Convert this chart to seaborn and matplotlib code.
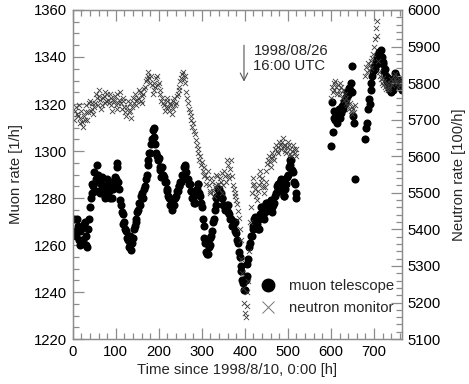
import numpy as np
import pandas as pd
import matplotlib
matplotlib.use("Agg")
import matplotlib.pyplot as plt
import seaborn as sns
from matplotlib.lines import Line2D
from matplotlib.ticker import MultipleLocator

# muon telescope, 2 h samples from t=4 to t=520
muon_t1 = np.arange(4, 521, 2)
muon_rate1 = [
    1271, 1266, 1264, 1271, 1268, 1262, 1260, 1266, 1267, 1262,
    1262, 1269, 1270, 1264, 1260, 1259, 1267, 1271, 1276, 1280,
    1282, 1286, 1285, 1291, 1283, 1288, 1294, 1290, 1287, 1283,
    1282, 1286, 1289, 1285, 1284, 1280, 1281, 1285, 1288, 1284,
    1283, 1280, 1287, 1284, 1280, 1284, 1285, 1289, 1288, 1293,
    1295, 1287, 1284, 1279, 1277, 1274, 1273, 1269, 1270, 1267,
    1266, 1263, 1262, 1259, 1264, 1260, 1258, 1261, 1263, 1267,
    1268, 1271, 1270, 1274, 1275, 1278, 1277, 1281, 1282, 1280,
    1280, 1284, 1285, 1288, 1290, 1294, 1296, 1299, 1299, 1303,
    1305, 1309, 1310, 1306, 1303, 1299, 1298, 1296, 1297, 1293,
    1292, 1289, 1293, 1290, 1289, 1287, 1287, 1284, 1283, 1281,
    1280, 1277, 1277, 1275, 1279, 1277, 1277, 1280, 1281, 1283,
    1283, 1285, 1285, 1287, 1287, 1290, 1290, 1293, 1293, 1294,
    1291, 1288, 1288, 1286, 1286, 1283, 1283, 1280, 1280, 1278,
    1278, 1282, 1284, 1286, 1286, 1282, 1281, 1278, 1276, 1271,
    1268, 1263, 1261, 1257, 1256, 1256, 1259, 1260, 1263, 1264,
    1266, 1270, 1271, 1275, 1277, 1280, 1281, 1284, 1284, 1282,
    1282, 1280, 1280, 1277, 1277, 1275, 1275, 1277, 1277, 1274,
    1273, 1271, 1271, 1268, 1268, 1270, 1270, 1266, 1265, 1262,
    1261, 1257, 1255, 1251, 1249, 1245, 1244, 1241, 1241, 1245,
    1247, 1252, 1254, 1259, 1261, 1264, 1264, 1267, 1268, 1271,
    1272, 1269, 1269, 1267, 1267, 1271, 1273, 1276, 1276, 1272,
    1271, 1274, 1275, 1278, 1278, 1275, 1275, 1278, 1279, 1276,
    1274, 1277, 1278, 1281, 1282, 1285, 1286, 1284, 1283, 1287,
    1288, 1285, 1284, 1281, 1281, 1284, 1286, 1289, 1290, 1293,
    1294, 1296, 1296, 1292, 1291, 1287, 1286, 1282, 1280,
]
# after the data gap
muon_t2 = np.arange(600, 657, 2)
muon_rate2 = [
    1302, 1321, 1308, 1314, 1317, 1313, 1316, 1312, 1315, 1318,
    1314, 1317, 1316, 1319, 1318, 1321, 1320, 1323, 1322, 1325,
    1324, 1327, 1326, 1329, 1336, 1325, 1315, 1312, 1288,
]
muon_t3 = np.arange(680, 765, 2)
muon_rate3 = [
    1305, 1310, 1312, 1318, 1322, 1320, 1326, 1329, 1332, 1334,
    1336, 1335, 1338, 1337, 1340, 1341, 1342, 1341, 1343, 1340,
    1337, 1338, 1334, 1335, 1332, 1330, 1331, 1328, 1327, 1326,
    1325, 1327, 1326, 1329, 1331, 1333, 1332, 1331, 1330, 1328,
    1329, 1327, 1326,
]

# neutron monitor
neutron_t1 = np.arange(4, 521, 2)
neutron_rate1 = [
    5700, 5725, 5735, 5715, 5710, 5740, 5690, 5705, 5725, 5695,
    5680, 5710, 5700, 5720, 5740, 5700, 5720, 5745, 5750, 5725,
    5730, 5745, 5715, 5735, 5745, 5770, 5760, 5740, 5780, 5765,
    5755, 5730, 5740, 5760, 5765, 5745, 5775, 5750, 5770, 5755,
    5745, 5770, 5760, 5740, 5725, 5755, 5750, 5765, 5740, 5730,
    5770, 5745, 5755, 5775, 5745, 5730, 5760, 5750, 5735, 5720,
    5710, 5735, 5750, 5720, 5725, 5745, 5705, 5735, 5760, 5745,
    5770, 5750, 5740, 5755, 5760, 5780, 5775, 5750, 5745, 5765,
    5770, 5785, 5790, 5805, 5810, 5820, 5830, 5815, 5800, 5820,
    5795, 5770, 5780, 5800, 5790, 5815, 5820, 5795, 5800, 5780,
    5770, 5750, 5760, 5745, 5740, 5725, 5735, 5760, 5750, 5735,
    5725, 5745, 5740, 5715, 5730, 5750, 5760, 5740, 5745, 5765,
    5770, 5780, 5790, 5805, 5815, 5825, 5830, 5810, 5820, 5800,
    5775, 5760, 5745, 5730, 5720, 5710, 5700, 5680, 5690, 5670,
    5660, 5645, 5630, 5620, 5610, 5590, 5600, 5575, 5585, 5560,
    5570, 5545, 5550, 5525, 5540, 5560, 5520, 5500, 5505, 5540,
    5530, 5505, 5490, 5515, 5520, 5550, 5545, 5525, 5510, 5540,
    5530, 5555, 5500, 5520, 5560, 5545, 5530, 5590, 5575, 5550,
    5540, 5565, 5590, 5545, 5520, 5510, 5500, 5490, 5480, 5470,
    5450, 5430, 5400, 5370, 5320, 5280, 5240, 5200, 5170, 5160,
    5190, 5230, 5260, 5340, 5420, 5460, 5500, 5520, 5540, 5525,
    5510, 5490, 5480, 5505, 5520, 5545, 5560, 5530, 5540, 5515,
    5500, 5515, 5530, 5560, 5580, 5590, 5600, 5585, 5570, 5595,
    5610, 5600, 5590, 5620, 5630, 5615, 5610, 5625, 5640, 5630,
    5620, 5640, 5650, 5625, 5630, 5615, 5610, 5625, 5640, 5630,
    5620, 5605, 5600, 5615, 5630, 5620, 5610, 5600, 5620,
]
neutron_t2 = np.arange(600, 657, 2)
neutron_rate2 = [
    5760, 5790, 5775, 5800, 5780, 5805, 5790, 5770, 5795, 5780,
    5800, 5770, 5790, 5760, 5780, 5755, 5770, 5745, 5760, 5740,
    5750, 5730, 5745, 5725, 5735, 5715, 5730, 5720, 5740,
]
neutron_t3 = np.arange(680, 765, 2)
neutron_rate3 = [
    5820, 5845, 5830, 5855, 5835, 5850, 5840, 5860, 5870, 5880,
    5900, 5920, 5950, 5970, 5930, 5860, 5830, 5820, 5810, 5800,
    5815, 5795, 5805, 5790, 5785, 5800, 5780, 5790, 5785, 5800,
    5810, 5795, 5805, 5820, 5810, 5825, 5805, 5800, 5790, 5810,
    5795, 5805, 5790,
]

muon = pd.DataFrame({
    "t": np.concatenate([muon_t1, muon_t2, muon_t3]),
    "rate": muon_rate1 + muon_rate2 + muon_rate3,
})
neutron = pd.DataFrame({
    "t": np.concatenate([neutron_t1, neutron_t2, neutron_t3]),
    "rate": neutron_rate1 + neutron_rate2 + neutron_rate3,
})

sns.set_style("ticks")
plt.rcParams["font.family"] = ["Liberation Sans", "DejaVu Sans"]
plt.rcParams["font.size"] = 10.7

axis_grey = "#8c8c8c"

fig = plt.figure(figsize=(4.69, 3.84), dpi=100)
ax = fig.add_axes([0.155, 0.117, 0.702, 0.857])
ax2 = ax.twinx()

sns.scatterplot(data=muon, x="t", y="rate", ax=ax, color="black",
                marker="o", s=34, linewidth=0)
sns.scatterplot(data=neutron, x="t", y="rate", ax=ax2, color="#3a3a3a",
                marker="x", s=14, linewidth=0.6)

ax.set_xlim(0, 765)
ax.set_ylim(1220, 1360)
ax2.set_ylim(5100, 6000)

ax.xaxis.set_major_locator(MultipleLocator(100))
ax.xaxis.set_minor_locator(MultipleLocator(20))
ax.yaxis.set_major_locator(MultipleLocator(20))
ax.yaxis.set_minor_locator(MultipleLocator(5))
ax2.yaxis.set_major_locator(MultipleLocator(100))
ax2.yaxis.set_minor_locator(MultipleLocator(20))

for a in (ax, ax2):
    a.tick_params(which="both", direction="in", color=axis_grey, width=0.9,
                  labelcolor="black", pad=4)
    a.tick_params(which="major", length=8)
    a.tick_params(which="minor", length=4.5)
    for sp in a.spines.values():
        sp.set_color(axis_grey)
        sp.set_linewidth(0.9)
ax.tick_params(axis="x", which="both", top=True)
ax.tick_params(axis="y", which="both", right=False)

ax.set_xlabel("Time since 1998/8/10, 0:00 [h]", labelpad=3)
ax.set_ylabel("Muon rate [1/h]", labelpad=8)
ax2.set_ylabel("Neutron rate [100/h]", labelpad=8)

ax.annotate("", xy=(398, 1329.5), xytext=(398, 1345),
            arrowprops=dict(arrowstyle="->,head_length=0.5,head_width=0.25",
                            color="#555555", lw=0.8, shrinkA=0, shrinkB=0))
ax.text(420, 1345.5, "1998/08/26\n16:00 UTC", va="top", ha="left",
        linespacing=1.1)

handles = [
    Line2D([], [], marker="o", color="black", linestyle="none", markersize=9),
    Line2D([], [], marker="x", color="#777777", linestyle="none",
           markersize=9, markeredgewidth=0.7),
]
ax.legend(handles, ["muon telescope", "neutron monitor"], loc="lower left",
          bbox_to_anchor=(0.545, 0.05), frameon=False, handlelength=1.2,
          handletextpad=0.8, labelspacing=0.55, borderpad=0)

fig.savefig("out.png", dpi=100)
